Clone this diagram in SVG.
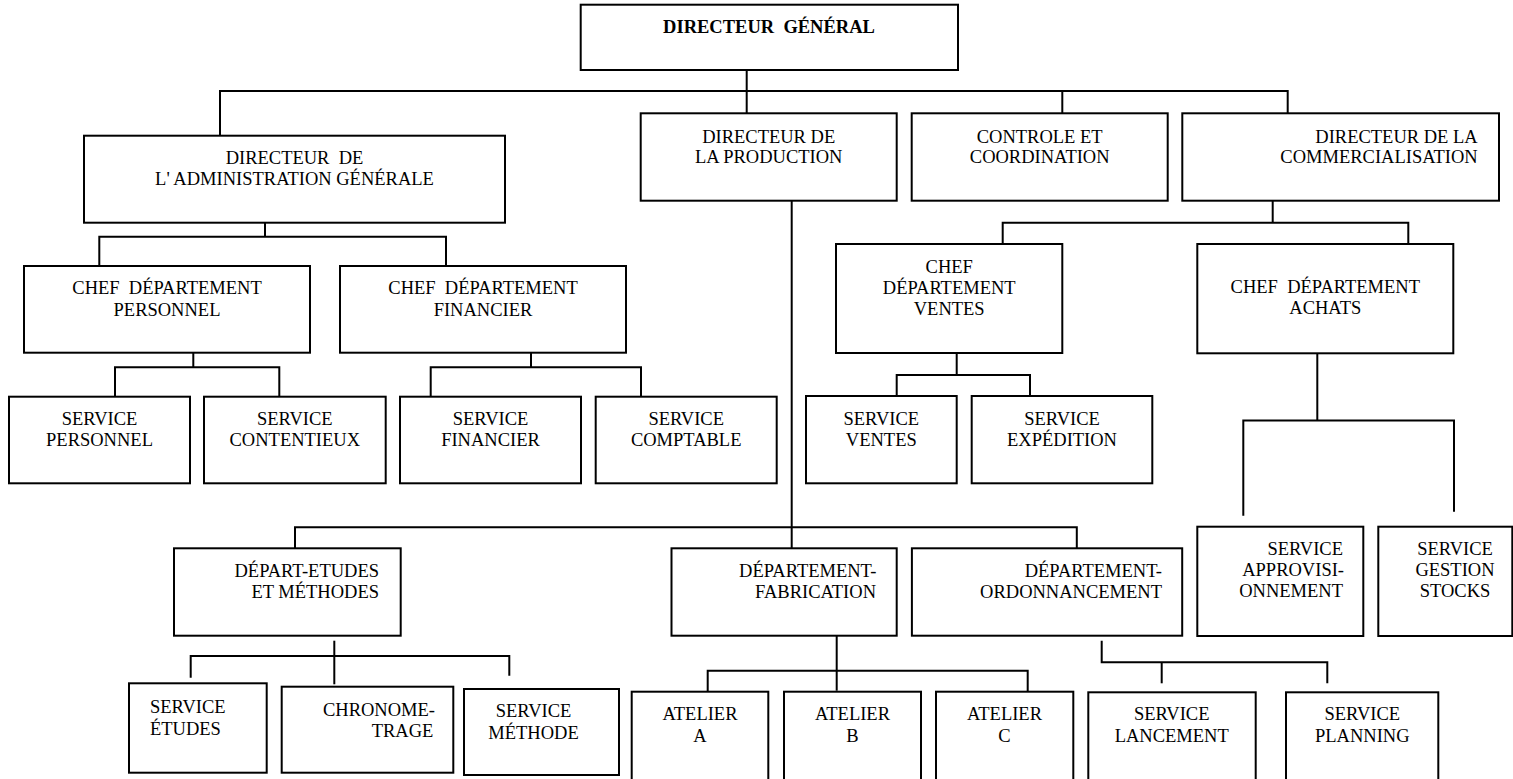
<svg xmlns="http://www.w3.org/2000/svg" width="1513" height="779" viewBox="0 0 1513 779">
  <style>
    .box { fill: #fff; stroke: #000; stroke-width: 2; }
    .wire { fill: none; stroke: #000; stroke-width: 2; }
    text { font-family: "Liberation Serif", "Times New Roman", serif; font-size: 18.5px; fill: #000; white-space: pre; }
    .c { text-anchor: middle; }
    .r { text-anchor: end; }
    .b { font-weight: bold; }
  </style>
  <rect width="1513" height="779" fill="#fff"/>

  <!-- connectors -->
  <g id="connectors" class="wire">
    <!-- top level -->
    <path d="M746.7 70 V113.3"/>
    <path d="M220 135.7 V91 H1287.7 V113.3"/>
    <path d="M1062.3 91 V113.3"/>
    <!-- administration -->
    <path d="M265 222.7 V236.7"/>
    <path d="M99.3 266 V236.7 H446 V266"/>
    <path d="M193.3 352.7 V367.3"/>
    <path d="M115 396.7 V367.3 H279.3 V396.7"/>
    <path d="M531 352.7 V367.3"/>
    <path d="M430.7 396.7 V367.3 H641 V396.7"/>
    <!-- production -->
    <path d="M791.7 200.7 V548.3"/>
    <path d="M295 548.3 V527.3 H1076.8 V548.3"/>
    <path d="M334.3 640.7 V684.3"/>
    <path d="M190.7 677.7 V656 H509.3 V675.7"/>
    <path d="M836.7 629.3 V690.7"/>
    <path d="M707.7 694 V670.7 H1027.7 V691.7"/>
    <path d="M1101.7 640.7 V662.3 H1327.3 V683.3"/>
    <path d="M1161.7 662.3 V683.3"/>
    <!-- commercialisation -->
    <path d="M1272.7 200.7 V222.7"/>
    <path d="M1002.7 244 V222.7 H1408.3 V244"/>
    <path d="M956.7 352.7 V375"/>
    <path d="M896.7 396 V375 H1030 V396"/>
    <path d="M1317.3 351 V420.5"/>
    <path d="M1243.3 515.7 V420.5 H1454 V511.7"/>
  </g>

  <g id="directeur-general">
    <rect class="box" x="580.7" y="4.7" width="377.3" height="65.3"/>
    <text class="c b" x="769" y="33.3">DIRECTEUR  GÉNÉRAL</text>
  </g>

  <g id="dir-administration">
    <rect class="box" x="84" y="135.7" width="421" height="87"/>
    <text class="c" x="294.5" y="164">DIRECTEUR  DE</text>
    <text class="c" x="294.5" y="185.3">L' ADMINISTRATION GÉNÉRALE</text>
  </g>

  <g id="dir-production">
    <rect class="box" x="640.7" y="113.3" width="256" height="87.4"/>
    <text class="c" x="768.7" y="142.7">DIRECTEUR DE</text>
    <text class="c" x="768.7" y="163.3">LA PRODUCTION</text>
  </g>

  <g id="controle-coordination">
    <rect class="box" x="911.7" y="113.3" width="256" height="87.4"/>
    <text class="c" x="1039.7" y="142.7">CONTROLE ET</text>
    <text class="c" x="1039.7" y="163.3">COORDINATION</text>
  </g>

  <g id="dir-commercialisation">
    <rect class="box" x="1182.3" y="113.3" width="316.7" height="87.4"/>
    <text class="r" x="1477.7" y="142.7">DIRECTEUR DE LA</text>
    <text class="r" x="1477.7" y="163.3">COMMERCIALISATION</text>
  </g>

  <g id="chef-dep-personnel">
    <rect class="box" x="24" y="266" width="286" height="86.7"/>
    <text class="c" x="167" y="294.3">CHEF  DÉPARTEMENT</text>
    <text class="c" x="167" y="315.7">PERSONNEL</text>
  </g>

  <g id="chef-dep-financier">
    <rect class="box" x="340" y="266" width="286" height="86.7"/>
    <text class="c" x="483" y="294.3">CHEF  DÉPARTEMENT</text>
    <text class="c" x="483" y="315.7">FINANCIER</text>
  </g>

  <g id="chef-dep-ventes">
    <rect class="box" x="836" y="244" width="226.3" height="109"/>
    <text class="c" x="949.2" y="273.3">CHEF</text>
    <text class="c" x="949.2" y="294.3">DÉPARTEMENT</text>
    <text class="c" x="949.2" y="315">VENTES</text>
  </g>

  <g id="chef-dep-achats">
    <rect class="box" x="1197.3" y="244" width="256" height="109.3"/>
    <text class="c" x="1325.3" y="293.3">CHEF  DÉPARTEMENT</text>
    <text class="c" x="1325.3" y="314.3">ACHATS</text>
  </g>

  <g id="service-personnel">
    <rect class="box" x="9" y="396.7" width="181" height="86.6"/>
    <text class="c" x="99.5" y="425">SERVICE</text>
    <text class="c" x="99.5" y="445.7">PERSONNEL</text>
  </g>

  <g id="service-contentieux">
    <rect class="box" x="204" y="396.7" width="181.7" height="86.6"/>
    <text class="c" x="294.8" y="425">SERVICE</text>
    <text class="c" x="294.8" y="445.7">CONTENTIEUX</text>
  </g>

  <g id="service-financier">
    <rect class="box" x="400" y="396.7" width="181" height="86.6"/>
    <text class="c" x="490.5" y="425">SERVICE</text>
    <text class="c" x="490.5" y="445.7">FINANCIER</text>
  </g>

  <g id="service-comptable">
    <rect class="box" x="595.7" y="396.7" width="181" height="86.6"/>
    <text class="c" x="686.2" y="425">SERVICE</text>
    <text class="c" x="686.2" y="445.7">COMPTABLE</text>
  </g>

  <g id="service-ventes">
    <rect class="box" x="806" y="396" width="150.7" height="87.3"/>
    <text class="c" x="881.3" y="425">SERVICE</text>
    <text class="c" x="881.3" y="445.7">VENTES</text>
  </g>

  <g id="service-expedition">
    <rect class="box" x="971.7" y="396" width="180.6" height="87.3"/>
    <text class="c" x="1062" y="425">SERVICE</text>
    <text class="c" x="1062" y="445.7">EXPÉDITION</text>
  </g>

  <g id="service-approvisionnement">
    <rect class="box" x="1197.3" y="526.7" width="166" height="109.3"/>
    <text class="r" x="1343" y="555">SERVICE</text>
    <text class="r" x="1344" y="576">APPROVISI-</text>
    <text class="r" x="1343" y="597.3">ONNEMENT</text>
  </g>

  <g id="service-gestion-stocks">
    <rect class="box" x="1378.3" y="526.7" width="134" height="109.3"/>
    <text class="c" x="1455" y="555">SERVICE</text>
    <text class="c" x="1455" y="576">GESTION</text>
    <text class="c" x="1455" y="597.3">STOCKS</text>
  </g>

  <g id="depart-etudes-methodes">
    <rect class="box" x="174" y="548.3" width="226.7" height="87.4"/>
    <text class="r" x="379" y="576.7">DÉPART-ETUDES</text>
    <text class="r" x="379" y="598.3">ET MÉTHODES</text>
  </g>

  <g id="departement-fabrication">
    <rect class="box" x="671.5" y="548.3" width="225.2" height="87.4"/>
    <text class="r" x="876.4" y="576.7">DÉPARTEMENT-</text>
    <text class="r" x="876" y="598.3">FABRICATION</text>
  </g>

  <g id="departement-ordonnancement">
    <rect class="box" x="911.9" y="548.3" width="270.3" height="87.4"/>
    <text class="r" x="1162" y="576.7">DÉPARTEMENT-</text>
    <text class="r" x="1162" y="598.3">ORDONNANCEMENT</text>
  </g>

  <g id="service-etudes">
    <rect class="box" x="129" y="683.3" width="137.7" height="89.4"/>
    <text x="150" y="713.3">SERVICE</text>
    <text x="150" y="735">ÉTUDES</text>
  </g>

  <g id="chronometrage">
    <rect class="box" x="281.7" y="686.7" width="171.6" height="86"/>
    <text class="r" x="435" y="715.7">CHRONOME-</text>
    <text class="r" x="433.3" y="736.7">TRAGE</text>
  </g>

  <g id="service-methode">
    <rect class="box" x="464" y="689" width="155" height="86"/>
    <text class="c" x="533.5" y="716.7">SERVICE</text>
    <text class="c" x="533.5" y="739">MÉTHODE</text>
  </g>

  <g id="atelier-a">
    <rect class="box" x="631.7" y="691.7" width="136.6" height="100"/>
    <text class="c" x="700" y="720">ATELIER</text>
    <text class="c" x="700" y="741.7">A</text>
  </g>

  <g id="atelier-b">
    <rect class="box" x="784" y="691.7" width="137" height="100"/>
    <text class="c" x="852.5" y="720">ATELIER</text>
    <text class="c" x="852.5" y="741.7">B</text>
  </g>

  <g id="atelier-c">
    <rect class="box" x="936" y="691.7" width="137.3" height="100"/>
    <text class="c" x="1004.5" y="720">ATELIER</text>
    <text class="c" x="1004.5" y="741.7">C</text>
  </g>

  <g id="service-lancement">
    <rect class="box" x="1088.3" y="692.3" width="167.4" height="100"/>
    <text class="c" x="1171.7" y="720">SERVICE</text>
    <text class="c" x="1171.7" y="741.7">LANCEMENT</text>
  </g>

  <g id="service-planning">
    <rect class="box" x="1286" y="692.3" width="152.3" height="100"/>
    <text class="c" x="1362.3" y="720">SERVICE</text>
    <text class="c" x="1362.3" y="741.7">PLANNING</text>
  </g>
</svg>
